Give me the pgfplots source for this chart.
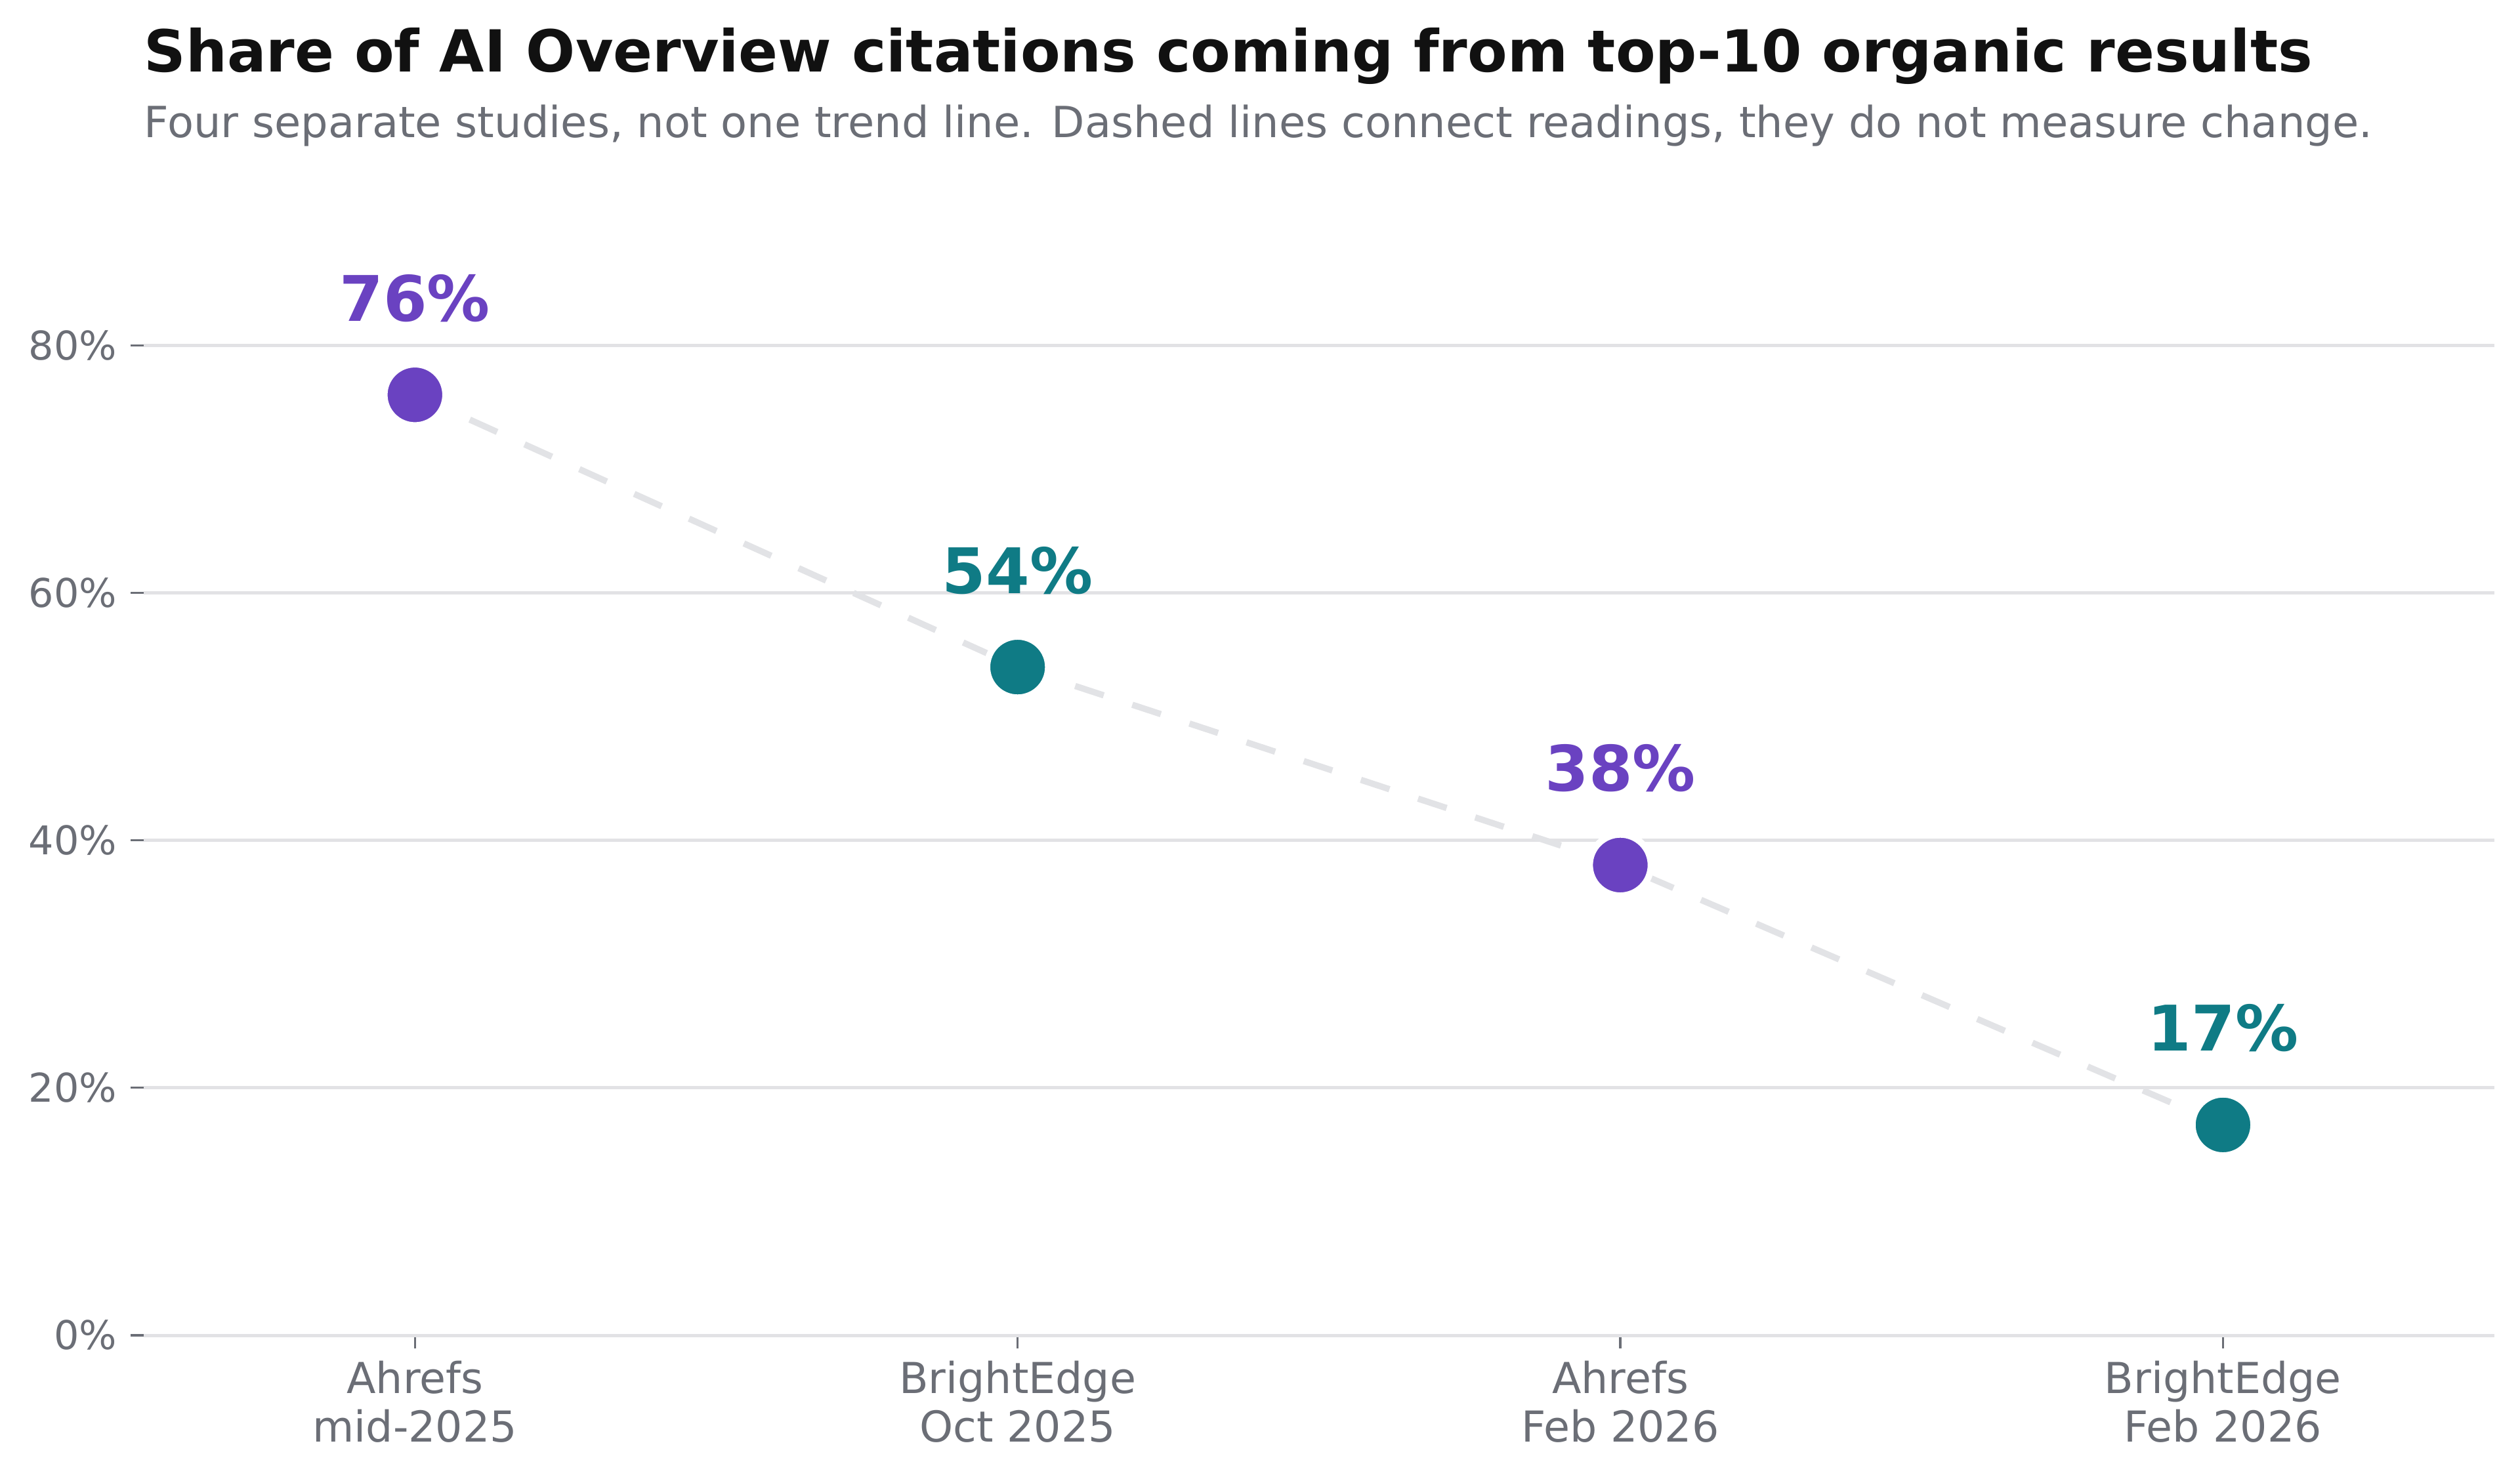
\documentclass[border=0pt]{standalone}
\usepackage{fontspec}
\setmainfont{DejaVu Sans}
\usepackage{pgfplots}
\pgfplotsset{compat=1.18}
\definecolor{purp}{HTML}{6A42C1}
\definecolor{tealc}{HTML}{0F7B85}
\definecolor{txtgray}{HTML}{6B6E76}
\definecolor{gridgray}{HTML}{E2E2E5}
\definecolor{dashgray}{HTML}{E2E3E6}
\definecolor{titleblack}{HTML}{111111}
\begin{document}
\begin{tikzpicture}
\begin{axis}[
  at={(0,0)}, anchor=south west,
  scale only axis, width=859.6pt, height=416.4pt,
  xmin=-0.45, xmax=3.45, ymin=0, ymax=92,
  axis x line*=bottom, axis y line*=left,
  x axis line style={draw=gridgray, line width=1.2pt, -},
  y axis line style={draw=none, -},
  ymajorgrids, grid style={gridgray, line width=1.2pt},
  ytick={0,20,40,60,80}, yticklabels={0\%,20\%,40\%,60\%,80\%},
  xtick={0,1,2,3},
  xticklabels={{Ahrefs\\mid-2025},{BrightEdge\\Oct 2025},{Ahrefs\\Feb 2026},{BrightEdge\\Feb 2026}},
  tick align=outside, major tick length=4.8pt,
  tick style={txtgray, line width=0.8pt},
  yticklabel style={font=\fontsize{14.5}{16}\selectfont, text=txtgray, anchor=east, inner sep=0pt, xshift=-4.8pt},
  xticklabel style={font=\fontsize{15.6}{17.8}\selectfont, text=txtgray, align=center, anchor=north, inner sep=0pt, yshift=-4.4pt},
  clip=false,
  /pgf/number format/assume math mode=true,
  point meta=y,
  nodes near coords={\pgfmathprintnumber[fixed,precision=0]{\pgfplotspointmeta}\%},
]
\addplot[dashgray, line width=2.3pt, dash pattern=on 11pt off 11pt, no markers, nodes near coords={}] coordinates {(0,76) (1,54) (2,38) (3,17)};
\addplot[only marks, mark=*, mark size=11.2pt, mark options={fill=purp, draw=white, line width=2.4pt},
  every node near coord/.append style={anchor=base, yshift=27pt, inner sep=0pt, font=\fontsize{23}{27}\bfseries\selectfont, text=purp}]
  coordinates {(0,76) (2,38)};
\addplot[only marks, mark=*, mark size=11.2pt, mark options={fill=tealc, draw=white, line width=2.4pt},
  every node near coord/.append style={anchor=base, yshift=27pt, inner sep=0pt, font=\fontsize{23}{27}\bfseries\selectfont, text=tealc}]
  coordinates {(1,54) (3,17)};
\end{axis}
\node[anchor=base west, inner sep=0pt, font=\fontsize{21.2}{25}\bfseries\selectfont, text=titleblack] at (0,462pt) {Share of AI Overview citations coming from top-10 organic results};
\node[anchor=base west, inner sep=0pt, font=\fontsize{15.7}{18}\selectfont, text=txtgray] at (0,438pt) {Four separate studies, not one trend line. Dashed lines connect readings, they do not measure change.};
\pgfresetboundingbox
\path[use as bounding box] (-52.56pt,-52.56pt) rectangle (869.04pt,488.4pt);
\end{tikzpicture}
\end{document}
